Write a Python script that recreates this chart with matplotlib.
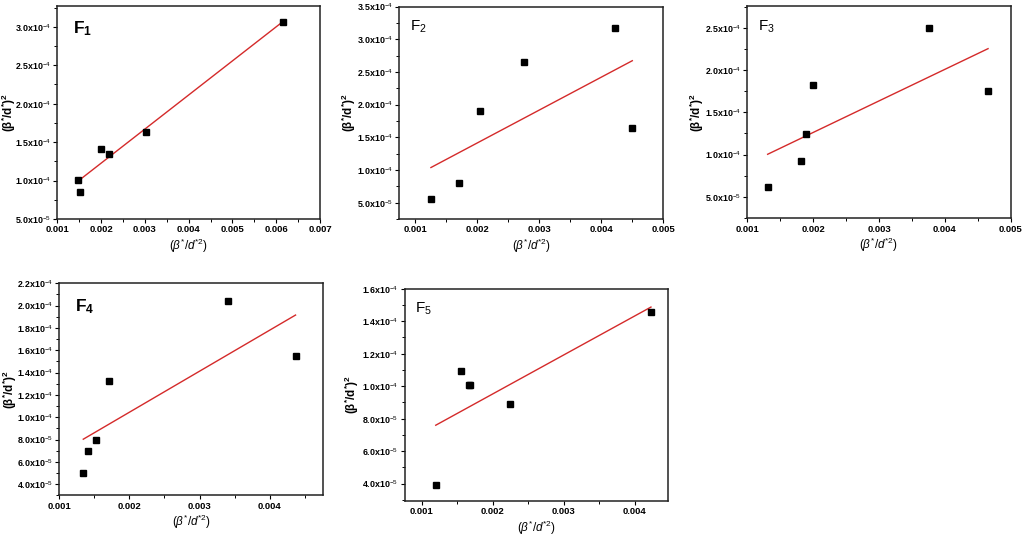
import numpy as np
import matplotlib
matplotlib.use('Agg')
import matplotlib.pyplot as plt
from matplotlib.ticker import FixedLocator, AutoMinorLocator

plt.rcParams['font.family'] = ['Liberation Sans', 'DejaVu Sans']
plt.rcParams['mathtext.fontset'] = 'custom'
plt.rcParams['mathtext.rm'] = 'Liberation Sans'
plt.rcParams['mathtext.it'] = 'Liberation Sans:italic'
plt.rcParams['mathtext.bf'] = 'Liberation Sans:bold'

# data (x in units of 1e-3, y in units of 1e-4)
f1_x = [1.48, 1.525, 2.00, 2.18, 3.02, 6.15]
f1_y = [1.006, 0.85, 1.405, 1.34, 1.625, 3.06]

f2_x = [1.252, 1.703, 2.036, 2.755, 4.22, 4.50]
f2_y = [0.56, 0.807, 1.90, 2.65, 3.17, 1.64]

f3_x = [1.309, 1.82, 1.89, 2.00, 3.754, 4.656]
f3_y = [0.618, 0.921, 1.24, 1.823, 2.50, 1.748]

f4_x = [1.342, 1.404, 1.523, 1.708, 3.405, 4.37]
f4_y = [0.50, 0.70, 0.80, 1.32, 2.045, 1.546]

f5_x = [1.197, 1.558, 1.66, 1.68, 2.242, 4.226]
f5_y = [0.392, 1.096, 1.01, 1.005, 0.89, 1.457]

f1_yticks = [0.5, 1.0, 1.5, 2.0, 2.5, 3.0]
f1_yticklabels = ['5.0x10$^{-5}$', '1.0x10$^{-4}$', '1.5x10$^{-4}$', '2.0x10$^{-4}$',
                  '2.5x10$^{-4}$', '3.0x10$^{-4}$']
f2_yticks = [0.5, 1.0, 1.5, 2.0, 2.5, 3.0, 3.5]
f2_yticklabels = f1_yticklabels + ['3.5x10$^{-4}$']
f3_yticks = [0.5, 1.0, 1.5, 2.0, 2.5]
f3_yticklabels = f1_yticklabels[:5]
f45_yticks = [0.4, 0.6, 0.8, 1.0, 1.2, 1.4, 1.6, 1.8, 2.0, 2.2]
f45_yticklabels = ['4.0x10$^{-5}$', '6.0x10$^{-5}$', '8.0x10$^{-5}$', '1.0x10$^{-4}$',
                   '1.2x10$^{-4}$', '1.4x10$^{-4}$', '1.6x10$^{-4}$', '1.8x10$^{-4}$',
                   '2.0x10$^{-4}$', '2.2x10$^{-4}$']

W, H = 1023, 539
fig = plt.figure(figsize=(W / 100, H / 100), dpi=100)


def make_axes(l, r, t, b):
    return fig.add_axes([l / W, 1 - b / H, (r - l) / W, (b - t) / H])


panels = [
    # x, y, rect(l, r, t, b), xlim, ylim, xticks, yticks, yticklabels, tag, bold, ylab_x
    (f1_x, f1_y, (57.3, 320, 6, 219), (1.0, 7.0), (0.5, 3.27),
     [1, 2, 3, 4, 5, 6, 7], f1_yticks, f1_yticklabels, '1', True, -0.186),
    (f2_x, f2_y, (399, 663.3, 6.5, 219), (0.737, 5.0), (0.25, 3.5),
     [1, 2, 3, 4, 5], f2_yticks, f2_yticklabels, '2', False, -0.19),
    (f3_x, f3_y, (747.3, 1010.7, 6, 218.3), (1.0, 5.0), (0.248, 2.756),
     [1, 2, 3, 4, 5], f3_yticks, f3_yticklabels, '3', False, -0.192),
    (f4_x, f4_y, (59.3, 323.3, 283.3, 495.3), (1.0, 4.766), (0.30, 2.2),
     [1, 2, 3, 4], f45_yticks, f45_yticklabels, '4', True, -0.186),
    (f5_x, f5_y, (404.7, 668.3, 288.7, 500.7), (0.76, 4.47), (0.295, 1.6),
     [1, 2, 3, 4], f45_yticks[:7], f45_yticklabels[:7], '5', False, -0.2),
]

for x, y, rect, xlim, ylim, xt, yt, ytl, tag, bold, ylx in panels:
    ax = make_axes(*rect)
    x = np.array(x)
    y = np.array(y)
    ax.plot(x, y, 's', color='black', markersize=4, zorder=3)
    # red line = least-squares fit over the data range
    k, c = np.polyfit(x, y, 1)
    xs = np.array([x.min(), x.max()])
    ax.plot(xs, k * xs + c, color='#d42a2a', lw=1.0, zorder=2)

    ax.set_xlim(*xlim)
    ax.set_ylim(*ylim)
    ax.xaxis.set_major_locator(FixedLocator(xt))
    ax.set_xticklabels(['%.3f' % (v / 1000) for v in xt], fontsize=6.8, fontweight='bold')
    ax.yaxis.set_major_locator(FixedLocator(yt))
    ax.set_yticklabels(ytl, fontsize=6.4, fontweight='bold')
    ax.xaxis.set_minor_locator(AutoMinorLocator(2))
    ax.yaxis.set_minor_locator(AutoMinorLocator(2))
    ax.tick_params(which='major', direction='out', length=3, width=0.8, pad=1.5)
    ax.tick_params(which='minor', direction='out', length=2, width=0.7)
    for s in ax.spines.values():
        s.set_linewidth(1.1)
        s.set_color('#222222')

    ax.set_ylabel(r'$\mathbf{(\beta^{*}/d^{*})^{2}}$', fontsize=8.4)
    ax.yaxis.set_label_coords(ylx, 0.5)
    ax.yaxis.label.set_va('center')
    ax.set_xlabel(r'$(\beta^{*}/d^{*2})$', fontsize=8.5)
    ax.xaxis.set_label_coords(0.5, -0.127)
    ax.xaxis.label.set_va('center')

    if bold:
        ax.text(0.06, 0.87, r'$\mathbf{F_%s}$' % tag, transform=ax.transAxes,
                fontsize=12.5, va='baseline')
    else:
        ax.text(0.04, 0.885, r'F$_%s$' % tag, transform=ax.transAxes,
                fontsize=11, va='baseline')

fig.savefig('out.png', dpi=100)
